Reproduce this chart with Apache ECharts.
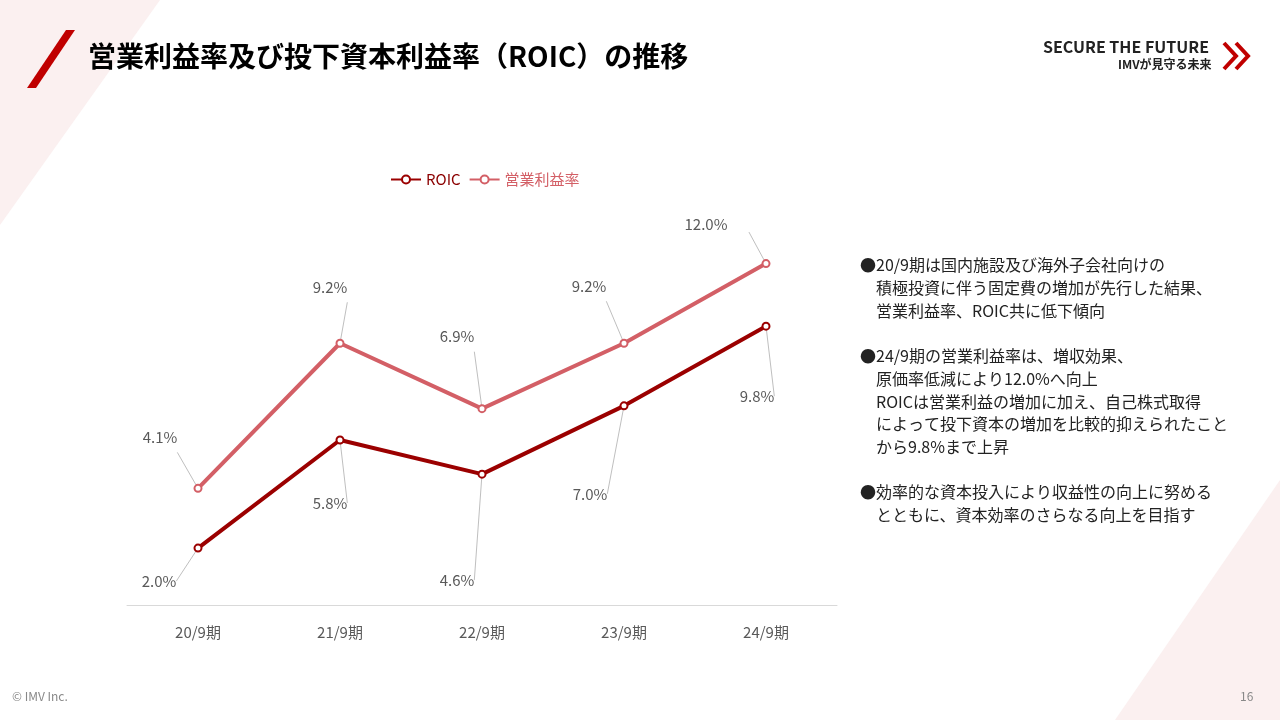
<!DOCTYPE html>
<html><head><meta charset="utf-8">
<script src="https://cdn.jsdelivr.net/npm/echarts@6/dist/echarts.min.js"></script>
<style>body{margin:0}#c{width:1280px;height:720px}</style></head>
<body><div id="c"></div>
<script>
var categories = ['20/9期', '21/9期', '22/9期', '23/9期', '24/9期'];
var roic = [2.0, 5.8, 4.6, 7.0, 9.8];
var opMargin = [4.1, 9.2, 6.9, 9.2, 12.0];
// label offsets from the point (px)
var roicOff = [[-39, 33], [-10, 63], [-25, 106], [-34, 88], [-9, 70]];
var opOff = [[-38, -51], [-10, -56], [-25, -72], [-35, -57], [-60, -39]];

var font = '"Noto Sans CJK JP", "Noto Sans", sans-serif';
var chart = echarts.init(document.getElementById('c'));

function mk(vals, offs) {
  return vals.map(function (v, i) {
    return { value: v, label: { offset: offs[i] } };
  });
}
function series(name, color, vals, offs) {
  return {
    name: name, type: 'line', data: mk(vals, offs),
    symbol: 'circle', symbolSize: 7,
    itemStyle: { color: '#fff', borderColor: color, borderWidth: 2 },
    lineStyle: { color: color, width: 4 },
    label: { show: true, position: 'inside', color: '#595959', fontSize: 15, fontFamily: font,
      formatter: function (p) { return p.value.toFixed(1) + '%'; } },
    labelLine: { show: true, lineStyle: { color: '#bfbfbf', width: 1 } }
  };
}

chart.setOption({
  backgroundColor: '#fff',
  graphic: [
    { type: 'polygon', shape: { points: [[0, 0], [160, 0], [0, 225]] }, style: { fill: '#fbf0f0' }, silent: true },
    { type: 'polygon', shape: { points: [[1280, 480], [1280, 720], [1115, 720]] }, style: { fill: '#fbf0f0' }, silent: true },
    { type: 'polygon', shape: { points: [[66, 30], [75, 30], [36, 88], [27, 88]] }, style: { fill: '#c00000' } },
    { type: 'text', left: 88, top: 42, style: { text: '営業利益率及び投下資本利益率（ROIC）の推移', font: 'bold 28px ' + font, fill: '#000' } },
    { type: 'text', left: 1043, top: 39, style: { text: 'SECURE THE FUTURE', font: 'bold 16px ' + font, fill: '#222' } },
    { type: 'text', left: 1118, top: 58, style: { text: 'IMVが見守る未来', font: 'bold 12px ' + font, fill: '#222' } },
    { type: 'polyline', shape: { points: [[1224, 43], [1236, 56], [1224, 69]] }, style: { stroke: '#c00000', lineWidth: 4, fill: 'none' } },
    { type: 'polyline', shape: { points: [[1236, 43], [1248, 56], [1236, 69]] }, style: { stroke: '#c00000', lineWidth: 4, fill: 'none' } },
    { type: 'text', left: 860, top: 254, style: { text:
      '●20/9期は国内施設及び海外子会社向けの\n　積極投資に伴う固定費の増加が先行した結果、\n　営業利益率、ROIC共に低下傾向\n\n' +
      '●24/9期の営業利益率は、増収効果、\n　原価率低減により12.0%へ向上\n　ROICは営業利益の増加に加え、自己株式取得\n　によって投下資本の増加を比較的抑えられたこと\n　から9.8%まで上昇\n\n' +
      '●効率的な資本投入により収益性の向上に努める\n　とともに、資本効率のさらなる向上を目指す',
      font: '16px ' + font, fill: '#222', lineHeight: 22.7 } },
    { type: 'text', left: 12, top: 690, style: { text: '© IMV Inc.', font: '12px ' + font, fill: '#888' } },
    { type: 'text', left: 1240, top: 690, style: { text: '16', font: '12px ' + font, fill: '#888' } }
  ],
  legend: {
    top: 167, left: 385,
    itemWidth: 30, itemHeight: 10,
    textStyle: { fontFamily: font, fontSize: 15, color: '#c00000' },
    data: [
      { name: 'ROIC', textStyle: { color: '#8b0000' } },
      { name: '営業利益率', textStyle: { color: '#d35f66' } }
    ]
  },
  grid: { left: 127, right: 443, top: 201, bottom: 115 },
  xAxis: {
    type: 'category', data: categories,
    axisLine: { lineStyle: { color: '#d9d9d9' } }, axisTick: { show: false },
    axisLabel: { color: '#595959', fontSize: 15, fontFamily: font, margin: 20 }
  },
  yAxis: { type: 'value', min: 0, max: 14.2, show: false, splitLine: { show: false } },
  series: [
    series('ROIC', '#9b0000', roic, roicOff),
    series('営業利益率', '#d35f66', opMargin, opOff)
  ]
});
</script></body></html>
